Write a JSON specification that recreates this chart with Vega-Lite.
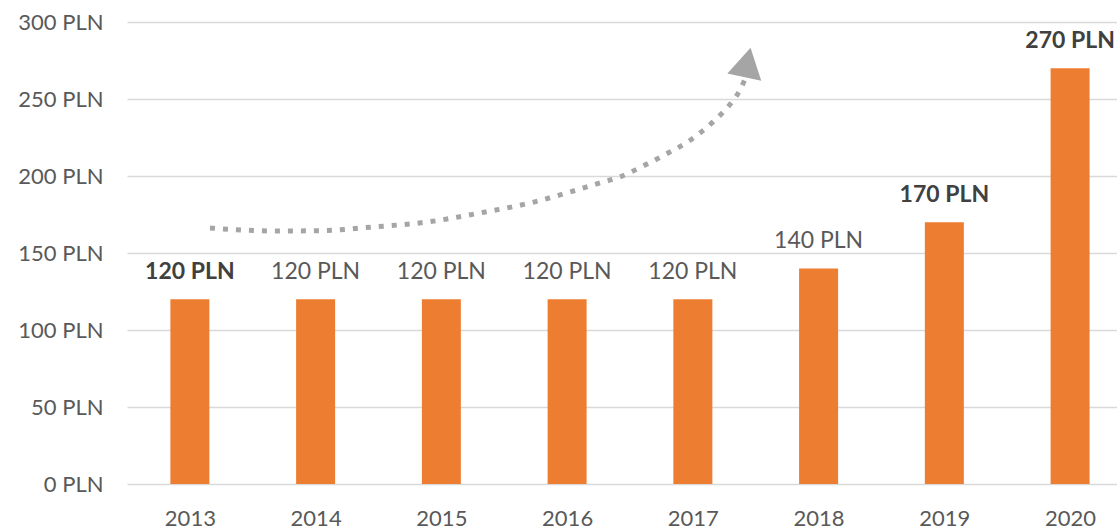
{
  "$schema": "https://vega.github.io/schema/vega-lite/v6.json",
  "width": 990,
  "height": 462,
  "autosize": {"type": "none"},
  "padding": {"left": 127, "top": 22, "right": 0, "bottom": 44},
  "background": "white",
  "config": {"view": {"stroke": null}, "font": "Lato"},
  "datasets": {
    "bars": [
      {"year": 2013, "value": 120, "label": "120 PLN"},
      {"year": 2014, "value": 120, "label": "120 PLN"},
      {"year": 2015, "value": 120, "label": "120 PLN"},
      {"year": 2016, "value": 120, "label": "120 PLN"},
      {"year": 2017, "value": 120, "label": "120 PLN"},
      {"year": 2018, "value": 140, "label": "140 PLN"},
      {"year": 2019, "value": 170, "label": "170 PLN"},
      {"year": 2020, "value": 270, "label": "270 PLN"}
    ],
    "arrow": [
      {"i": 1, "year": 2013.16, "value": 166.2},
      {"i": 2, "year": 2013.693, "value": 164.3},
      {"i": 3, "year": 2014.035, "value": 164.5},
      {"i": 4, "year": 2014.456, "value": 166.9},
      {"i": 5, "year": 2014.886, "value": 170.1},
      {"i": 6, "year": 2015.307, "value": 176.0},
      {"i": 7, "year": 2015.705, "value": 182.5},
      {"i": 8, "year": 2016.023, "value": 189.6},
      {"i": 9, "year": 2016.261, "value": 195.5},
      {"i": 10, "year": 2016.42, "value": 199.4},
      {"i": 11, "year": 2016.619, "value": 207.1},
      {"i": 12, "year": 2016.802, "value": 214.9},
      {"i": 13, "year": 2016.993, "value": 224.0},
      {"i": 14, "year": 2017.16, "value": 235.1},
      {"i": 15, "year": 2017.311, "value": 248.1},
      {"i": 16, "year": 2017.375, "value": 255.8},
      {"i": 17, "year": 2017.41, "value": 262.0}
    ],
    "head": [
      {"year": 2017.434, "value": 273.7}
    ]
  },
  "encoding": {
    "x": {
      "field": "year",
      "type": "quantitative",
      "scale": {"domain": [2012.5, 2020.373], "nice": false, "zero": false, "padding": 0},
      "axis": {
        "values": [2013, 2014, 2015, 2016, 2017, 2018, 2019, 2020],
        "format": "d",
        "title": null,
        "domain": false,
        "ticks": false,
        "grid": false,
        "labelFont": "Lato",
        "labelFontSize": 22,
        "labelColor": "#595959",
        "labelPadding": 24,
        "labelFlush": false,
        "labelOverlap": false,
        "labelBound": false
      }
    },
    "y": {
      "field": "value",
      "type": "quantitative",
      "scale": {"domain": [0, 300], "nice": false, "padding": 0},
      "axis": {
        "values": [0, 50, 100, 150, 200, 250, 300],
        "labelExpr": "datum.value + ' PLN'",
        "title": null,
        "domain": false,
        "ticks": false,
        "gridColor": "#D9D9D9",
        "gridWidth": 1.5,
        "labelFont": "Lato",
        "labelFontSize": 22,
        "labelColor": "#595959",
        "labelPadding": 24
      }
    }
  },
  "layer": [
    {
      "data": {"name": "bars"},
      "mark": {"type": "bar", "color": "#ED7D31", "size": 39}
    },
    {
      "data": {"name": "bars"},
      "transform": [{"filter": "!(datum.year == 2013 || datum.year >= 2019)"}],
      "mark": {"type": "text", "font": "Lato", "fontSize": 23, "color": "#595959", "baseline": "alphabetic", "dy": -20},
      "encoding": {"text": {"field": "label"}}
    },
    {
      "data": {"name": "bars"},
      "transform": [{"filter": "datum.year == 2013 || datum.year >= 2019"}],
      "mark": {"type": "text", "font": "Lato", "fontSize": 23, "fontWeight": "bold", "color": "#404040", "baseline": "alphabetic", "dy": -20},
      "encoding": {"text": {"field": "label"}}
    },
    {
      "data": {"name": "arrow"},
      "mark": {"type": "line", "color": "#A5A5A5", "strokeWidth": 5, "strokeDash": [5, 8], "interpolate": "monotone"},
      "encoding": {"order": {"field": "i", "type": "quantitative"}}
    },
    {
      "data": {"name": "head"},
      "mark": {"type": "point", "shape": "triangle-up", "filled": true, "size": 1200, "color": "#A5A5A5", "opacity": 1, "angle": 12}
    }
  ]
}
